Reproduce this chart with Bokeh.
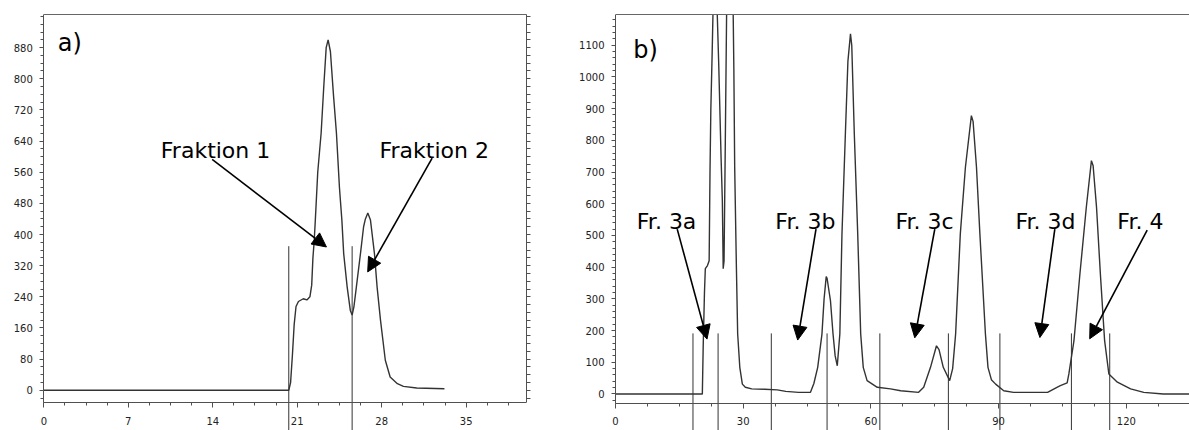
from bokeh.plotting import figure
from bokeh.layouts import row
from bokeh.models import (Range1d, LinearAxis, SingleIntervalTicker, FixedTicker,
                          Arrow, NormalHead, ColumnDataSource)
from bokeh.core.properties import value
from bokeh.embed import file_html
from bokeh.resources import INLINE

# ---------------- panel a) data ----------------
a_time = [0, 20.3, 20.45, 20.6, 20.75, 20.9, 21.1, 21.5, 21.8, 22.05, 22.2, 22.3, 22.4,
          22.5, 22.7, 22.98, 23.2, 23.4, 23.56, 23.75, 24.0, 24.25, 24.5, 24.7, 24.85,
          25.14, 25.4, 25.55, 25.7, 25.9, 26.24, 26.5, 26.65, 26.85, 27.07, 27.4, 27.62,
          27.9, 28.3, 28.7, 29.3, 29.8, 30.9, 33.2]
a_signal = [0, 0, 20, 90, 170, 215, 228, 235, 232, 240, 270, 340, 380,
            437, 560, 660, 780, 880, 900, 870, 760, 660, 520, 437, 351,
            265, 205, 193, 215, 265, 351, 420, 440, 455, 437, 351, 265,
            180, 77, 34, 17, 10, 6, 4]
a_yticks = [0, 80, 160, 240, 320, 400, 480, 560, 640, 720, 800, 880]
a_cuts = [20.3, 25.55]
a_cut_top = 370
a_labels = ["Fraktion 1", "Fraktion 2"]
a_label_x = [14.23, 32.35]
a_label_y = [616, 616]
a_arrow_x0 = [13.95, 32.18]
a_arrow_y0 = [593, 596]
a_arrow_x1 = [23.42, 26.84]
a_arrow_y1 = [368, 304]

# ---------------- panel b) data ----------------
b_time = [0, 20.4, 20.6, 20.9, 21.1, 21.6, 22.0, 22.2, 22.4, 22.7, 22.9, 23.4, 23.9,
          24.27, 24.8, 25.1, 25.3, 25.5, 25.8, 26.1, 26.9, 27.6, 27.8, 28.0, 28.4,
          28.7, 29.2, 29.8, 30.5, 32, 35, 38, 40, 43, 45.8, 46.6, 47.5, 48.5, 49.0,
          49.5, 49.7, 50.5, 51.1, 51.6, 52.1, 52.7, 53.2, 54.0, 54.6, 55.2, 55.5,
          56.1, 56.9, 57.6, 58.2, 59.1, 61.5, 64.6, 67, 71.2, 72.4, 74.0, 75.4, 76.0,
          77.0, 78.5, 79.2, 79.9, 81.0, 82.2, 83.6, 84.0, 84.8, 85.6, 86.9, 87.5,
          88.3, 89.3, 91.2, 93.5, 101.5, 103.7, 104.5, 106.1, 106.5, 107.7, 109.1,
          110.6, 111.8, 112.2, 113.0, 113.9, 114.9, 115.9, 117.9, 121, 124.1, 128.7, 135]
b_signal = [0, 0, 150, 320, 395, 405, 420, 700, 900, 1072, 1200, 1450, 1200,
            1030, 746, 610, 395, 420, 800, 1200, 1600, 1250, 1030, 715, 400,
            189, 84, 31, 21, 16, 15, 13, 8, 5, 5, 33, 84, 189, 300,
            370, 365, 294, 189, 120, 89, 189, 505, 820, 1050, 1136, 1100,
            820, 505, 189, 84, 42, 21, 16, 10, 5, 21, 84, 152, 140,
            84, 42, 80, 189, 505, 715, 878, 860, 715, 505, 189, 84,
            45, 31, 10, 5, 5, 21, 26, 35, 63, 168, 379,
            589, 736, 720, 589, 379, 168, 63, 37, 16, 5, 0, 0]
b_yticks = [0, 100, 200, 300, 400, 500, 600, 700, 800, 900, 1000, 1100]
b_cuts = [18.2, 24.1, 36.6, 49.7, 62.1, 78.2, 90.3, 107.1, 116.1]
b_cut_top = 191
b_labels = ["Fr. 3a", "Fr. 3b", "Fr. 3c", "Fr. 3d", "Fr. 4"]
b_label_x = [12.0, 44.6, 72.6, 101.0, 123.3]
b_label_y = [543, 543, 543, 543, 543]
b_arrow_x0 = [14.5, 47.1, 75.0, 103.2, 124.9]
b_arrow_y0 = [520, 520, 520, 520, 517]
b_arrow_x1 = [21.5, 42.8, 70.3, 99.7, 111.4]
b_arrow_y1 = [173, 170, 177, 178, 174]

AXIS_COLOR = "#505050"
LINE_COLOR = "#333333"
TICK_FONT = "DejaVu Sans"


def make_panel(width, min_right, xr, yr, x_axis_y, xint, yticks, right_axis,
               time, signal, cuts, cut_top, labels, lx, ly,
               ax0, ay0, ax1, ay1, tag, tag_x, tag_y):
    p = figure(width=width, height=430, x_range=Range1d(*xr), y_range=Range1d(*yr),
               output_backend="svg", toolbar_location=None,
               min_border_left=0, min_border_right=min_right,
               min_border_top=14, min_border_bottom=0)
    p.outline_line_color = None
    p.xgrid.visible = False
    p.ygrid.visible = False
    p.background_fill_color = "white"
    p.border_fill_color = "white"

    # minor ticks every 20 units along the y axes
    yminor = list(range(-20, int(yr[1]) + 1, 20))

    # bottom axis, drawn at a fixed data location so the frame can extend below
    xa = p.xaxis[0]
    xa.ticker = SingleIntervalTicker(interval=xint, num_minor_ticks=4)
    xa.fixed_location = x_axis_y
    xa.bounds = (0, xr[1])
    xa.axis_line_color = AXIS_COLOR
    xa.major_tick_line_color = AXIS_COLOR
    xa.minor_tick_line_color = AXIS_COLOR
    xa.major_tick_in = 0
    xa.minor_tick_in = 0
    xa.major_tick_out = 5
    xa.minor_tick_out = 3
    xa.major_label_standoff = 9
    xa.major_label_text_font = TICK_FONT
    xa.major_label_text_font_size = "10px"
    xa.major_label_text_color = "#222222"

    # left axis, fixed at x = 0 so that its labels sit inside the frame
    ya = p.yaxis[0]
    ya.ticker = FixedTicker(ticks=yticks, minor_ticks=yminor)
    ya.fixed_location = 0
    ya.bounds = (x_axis_y, yr[1])
    ya.axis_line_color = AXIS_COLOR
    ya.major_tick_line_color = AXIS_COLOR
    ya.minor_tick_line_color = AXIS_COLOR
    ya.major_tick_in = 0
    ya.minor_tick_in = 0
    ya.major_tick_out = 4
    ya.minor_tick_out = 3
    ya.major_label_standoff = 7
    ya.major_label_text_font = TICK_FONT
    ya.major_label_text_font_size = "10px"
    ya.major_label_text_color = "#222222"

    # top border line
    top = LinearAxis(ticker=FixedTicker(ticks=[]), axis_line_color="#666666",
                     bounds=(0, xr[1]), major_tick_out=0, minor_tick_out=0,
                     major_tick_in=0, minor_tick_in=0, major_label_standoff=0)
    p.add_layout(top, "above")

    if right_axis:
        ra = LinearAxis(ticker=FixedTicker(ticks=[], minor_ticks=yminor),
                        bounds=(x_axis_y, yr[1]), axis_line_color=AXIS_COLOR,
                        major_tick_line_color=AXIS_COLOR, minor_tick_line_color=AXIS_COLOR,
                        major_tick_in=0, minor_tick_in=0, major_tick_out=4, minor_tick_out=4,
                        major_label_standoff=0)
        p.add_layout(ra, "right")

    # fraction cut markers (run down past the axis)
    p.segment(x0=cuts, y0=[cut_top] * len(cuts), x1=cuts, y1=[yr[0]] * len(cuts),
              line_color="#333333", line_width=1)

    # chromatogram
    p.line(time, signal, line_color=LINE_COLOR, line_width=1.4)

    # labels
    p.text(x=lx, y=ly, text=labels, text_font=value("DejaVu Sans"),
           text_font_size=value("22px"), text_align="center",
           text_baseline="alphabetic", text_color="black")
    p.text(x=[tag_x], y=[tag_y], text=[tag], text_font=value("DejaVu Sans"),
           text_font_size=value("24px"), text_align="left",
           text_baseline="alphabetic", text_color="black")

    src = ColumnDataSource(dict(x0=ax0, y0=ay0, x1=ax1, y1=ay1))
    p.add_layout(Arrow(end=NormalHead(size=14, fill_color="black", line_color="black",
                                      line_width=1),
                       x_start="x0", y_start="y0", x_end="x1", y_end="y1", source=src,
                       line_color="black", line_width=1.6))
    return p


# panel a: frame 0..526 px, x=0 at 43.3 px, 12.07 px/unit; y=0 at 390 px, 0.3894 px/unit
pa = make_panel(560, 34, (-3.59, 40.0), (-103.3, 965), -31.6, 7, a_yticks, True,
                a_time, a_signal, a_cuts, a_cut_top, a_labels, a_label_x, a_label_y,
                a_arrow_x0, a_arrow_y0, a_arrow_x1, a_arrow_y1, "a)", 1.16, 891)
# panel b: frame 560..1189 px, x=0 at 615 px, 4.257 px/unit; y=0 at 393.3 px, 0.317 px/unit
pb = make_panel(629, 0, (-12.92, 134.84), (-115.3, 1197), -29.6, 30, b_yticks, False,
                b_time, b_signal, b_cuts, b_cut_top, b_labels, b_label_x, b_label_y,
                b_arrow_x0, b_arrow_y0, b_arrow_x1, b_arrow_y1, "b)", 4.16, 1086)

layout = row(pa, pb)
open("out.html", "w").write(file_html(layout, INLINE))
